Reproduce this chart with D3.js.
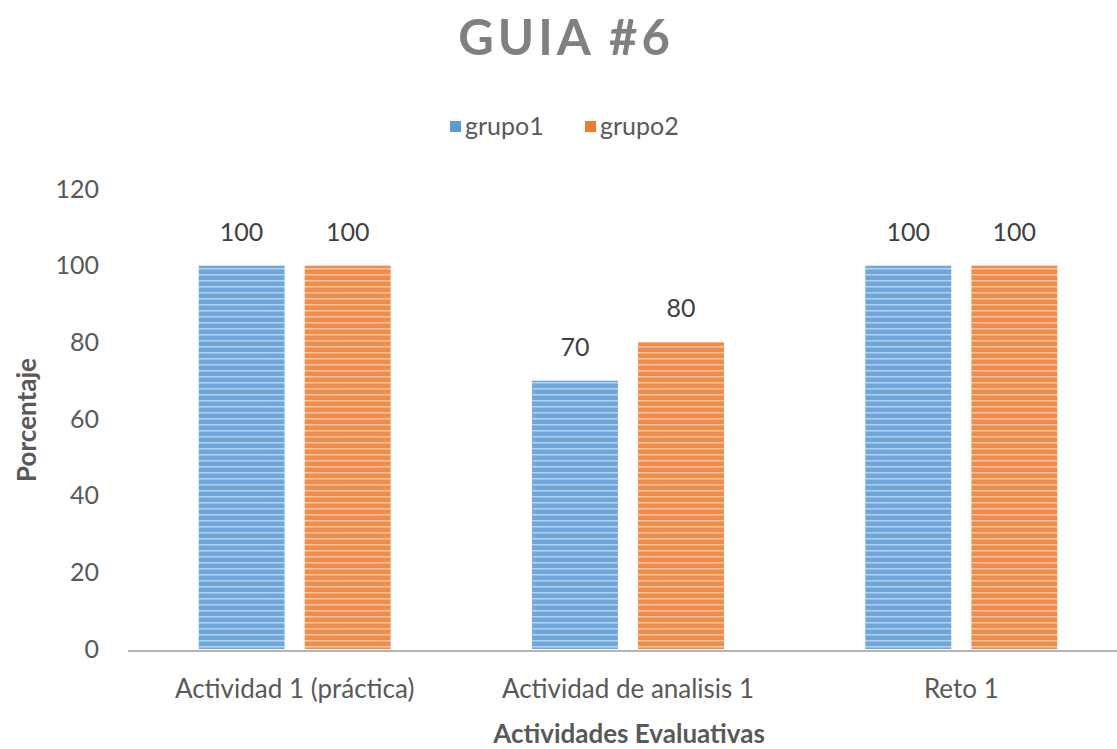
<html>
<head>
  <meta charset="utf-8">
  <script src="https://d3js.org/d3.v7.min.js"></script>
  <style>
    body { margin: 0; background: #fff; }
    text { font-family: Lato, "Open Sans", sans-serif; }
  </style>
</head>
<body>
  <div id="chart-container"></div>
  <script>
    const categories = ["Actividad 1 (práctica)", "Actividad de analisis 1", "Reto 1"];
    const seriesNames = ["grupo1", "grupo2"];
    const grupo1 = [100, 70, 100];
    const grupo2 = [100, 80, 100];
    const yTicks = [0, 20, 40, 60, 80, 100, 120];

    const W = 1117, H = 749;
    const colors = ["#5b9bd5", "#ed7d31"];
    const lightColors = ["#b3d1ee", "#f8c4a0"];

    const svg = d3.select("#chart-container").append("svg")
      .attr("width", W).attr("height", H);

    // striped fill like the original bars
    const defs = svg.append("defs");
    seriesNames.forEach((s, i) => {
      const p = defs.append("pattern")
        .attr("id", "stripe" + i)
        .attr("patternUnits", "userSpaceOnUse")
        .attr("width", 8).attr("height", 6);
      p.append("rect").attr("width", 8).attr("height", 6).attr("fill", colors[i]).attr("opacity", 0.88);
      p.append("rect").attr("y", 4).attr("width", 8).attr("height", 1.5).attr("fill", lightColors[i]);
    });

    const x0 = d3.scaleBand().domain(categories).range([128, 1128]);
    const x1 = d3.scaleBand().domain(seriesNames).range([0, 192]).paddingInner(0.19);
    const y = d3.scaleLinear().domain([0, 120]).range([649, 189]);

    // title
    svg.append("text")
      .attr("x", 566).attr("y", 55)
      .attr("text-anchor", "middle")
      .attr("fill", "#808080")
      .style("font-size", "49px").style("font-weight", "bold")
      .style("letter-spacing", "4px")
      .text("GUIA #6");

    // legend
    const legendX = [450, 585];
    seriesNames.forEach((s, i) => {
      svg.append("rect").attr("x", legendX[i]).attr("y", 121)
        .attr("width", 11).attr("height", 11).attr("fill", colors[i]);
      svg.append("text").attr("x", legendX[i] + 15).attr("y", 135)
        .attr("fill", "#595959").style("font-size", "25px")
        .text(s);
    });

    // y axis
    const yAxis = d3.axisLeft(y).tickValues(yTicks).tickSize(0).tickPadding(0);
    const gy = svg.append("g").attr("transform", "translate(99,0)").call(yAxis);
    gy.select(".domain").remove();
    gy.selectAll("text").attr("fill", "#595959").style("font-size", "25px")
      .style("font-family", "Lato, sans-serif");

    // bars
    const data = categories.map((c, i) => ({ cat: c, values: [grupo1[i], grupo2[i]] }));
    const groups = svg.selectAll(".grp").data(data).enter().append("g")
      .attr("transform", d => `translate(${x0(d.cat) + (x0.bandwidth() - 192) / 2},0)`);

    groups.selectAll("rect").data(d => d.values.map((v, i) => ({ s: seriesNames[i], v, i })))
      .enter().append("rect")
      .attr("x", d => x1(d.s))
      .attr("width", x1.bandwidth())
      .attr("y", d => y(d.v))
      .attr("height", d => y(0) - y(d.v))
      .attr("fill", d => `url(#stripe${d.i})`);

    groups.selectAll(".lbl").data(d => d.values.map((v, i) => ({ s: seriesNames[i], v })))
      .enter().append("text")
      .attr("x", d => x1(d.s) + x1.bandwidth() / 2)
      .attr("y", d => y(d.v) - 25)
      .attr("text-anchor", "middle")
      .attr("fill", "#404040").style("font-size", "25px")
      .text(d => d.v);

    // x axis
    svg.append("line").attr("x1", 128).attr("x2", W).attr("y1", 651).attr("y2", 651)
      .attr("stroke", "#b4b4b4").attr("stroke-width", 2);
    const xAxis = d3.axisBottom(x0).tickSize(0).tickPadding(0);
    const gx = svg.append("g").attr("transform", "translate(0,698)").call(xAxis);
    gx.select(".domain").remove();
    gx.selectAll("text").attr("fill", "#595959").style("font-size", "26px")
      .style("font-family", "Lato, sans-serif").attr("dy", 0);

    // axis titles
    svg.append("text").attr("x", 629).attr("y", 743).attr("text-anchor", "middle")
      .attr("fill", "#595959").style("font-size", "26px").style("font-weight", "bold")
      .text("Actividades Evaluativas");
    svg.append("text").attr("transform", "translate(36,420) rotate(-90)")
      .attr("text-anchor", "middle")
      .attr("fill", "#595959").style("font-size", "26px").style("font-weight", "bold")
      .text("Porcentaje");
  </script>
</body>
</html>
